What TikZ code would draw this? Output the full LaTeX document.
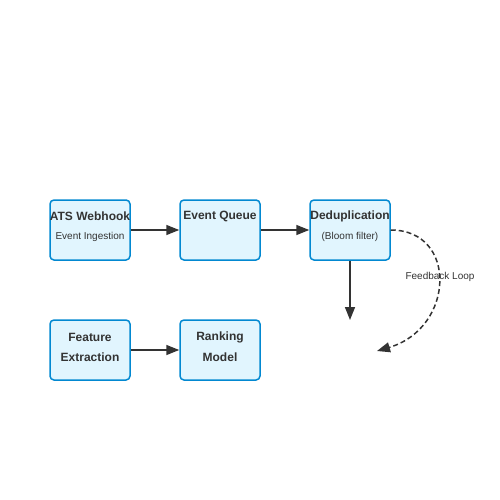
\documentclass[tikz,border=0pt]{standalone}
\usepackage{fontspec}
\setmainfont{Liberation Sans}
\usetikzlibrary{arrows.meta,positioning,calc}

\definecolor{boxfill}{HTML}{E1F5FE}
\definecolor{boxline}{HTML}{0288D1}
\definecolor{ink}{HTML}{333333}

\tikzset{
  stage/.style={draw=boxline, fill=boxfill, line width=1.5pt, rounded corners=4pt,
    minimum width=80pt, minimum height=60pt, inner sep=0pt},
  title/.style={text=ink, font=\fontsize{12}{14}\selectfont\bfseries, inner sep=0pt},
  sub/.style={text=ink, font=\fontsize{10}{12}\selectfont, inner sep=0pt},
  flow/.style={draw=ink, line width=1.5pt, -{Triangle[length=13pt,width=10pt]}},
}

\begin{document}
\begin{tikzpicture}[x=1pt, y=-1pt]
  % page frame (500 x 500)
  \useasboundingbox (0,0) rectangle (500,500);

  % upper row
  \node[stage] (ats)   at (90,230)  {};
  \node[stage] (queue) at (220,230) {};
  \node[stage] (dedup) at (350,230) {};
  % lower row
  \node[stage] (feat)  at (90,350)  {};
  \node[stage] (rank)  at (220,350) {};

  % texts
  \node[title] at ([yshift=-17pt]ats.north)   {ATS Webhook};
  \node[sub]   at ([yshift=-38pt]ats.north)   {Event Ingestion};
  \node[title] at ([yshift=-17pt]queue.north) {Event Queue};
  \node[title] at ([yshift=-17pt]dedup.north) {Deduplication};
  \node[sub]   at ([yshift=-38pt]dedup.north) {(Bloom filter)};
  \node[title] at ([yshift=-18pt]feat.north)  {Feature};
  \node[title] at ([yshift=-38pt]feat.north)  {Extraction};
  \node[title] at ([yshift=-18pt]rank.north)  {Ranking};
  \node[title] at ([yshift=-38pt]rank.north)  {Model};

  % connectors
  \draw[flow] (ats) -- (queue);
  \draw[flow] (queue) -- (dedup);
  \draw[flow] (feat) -- (rank);

  \coordinate (down) at (350,320);
  \draw[flow] (dedup.south) -- (down);

  % feedback loop (dashed)
  \coordinate (back) at (377,351);
  \draw[flow, dash pattern=on 5pt off 3pt] (dedup.east) .. controls (458,230) and (455,328) .. (back);
  \node[sub] (fb) at (440,277) {Feedback Loop};
\end{tikzpicture}
\end{document}
